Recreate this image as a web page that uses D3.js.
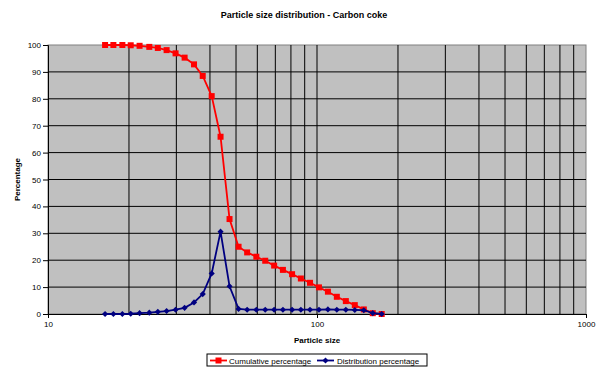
<!DOCTYPE html>
<html>
<head>
<meta charset="utf-8">
<script src="https://cdn.jsdelivr.net/npm/d3@7"></script>
<style>
  body { margin: 0; background: #fff; }
  text { font-family: "Liberation Sans", Arial, sans-serif; }
</style>
</head>
<body>
<div id="vis"></div>
<script>
// particle sizes
const sizes = [16.3, 17.5, 18.9, 20.3, 21.9, 23.8, 25.6, 27.6, 29.8, 32.2, 34.9, 37.6, 40.6,
  43.8, 47.3, 51.1, 55.0, 59.5, 64.2, 69.3, 74.7, 80.8, 87.1, 94.2, 101.7, 109.8, 118.5,
  128.0, 138.2, 149.3, 161.2, 174.0];
const cumulative = [100, 100, 100, 99.9, 99.7, 99.3, 98.9, 98.1, 96.9, 95.3, 92.8, 88.5, 81,
  65.9, 35.3, 25, 22.9, 21.3, 19.8, 18, 16.4, 14.8, 13.2, 11.6, 9.9, 8.3, 6.4, 4.8, 3.3, 1.7, 0.3, 0];
const distribution = [0, 0, 0, 0.1, 0.3, 0.5, 0.8, 1.1, 1.6, 2.3, 4.3, 7.4, 15.1,
  30.6, 10.3, 1.9, 1.6, 1.6, 1.6, 1.6, 1.6, 1.6, 1.6, 1.6, 1.6, 1.7, 1.6, 1.6, 1.5, 1.4, 0.3, 0];
const yTicks = [0, 10, 20, 30, 40, 50, 60, 70, 80, 90, 100];
const xTicks = [10, 100, 1000];

const svg = d3.select("#vis")
    .append("svg")
    .attr("width", 598)
    .attr("height", 367);

const plotL = 48, plotR = 586, plotT = 45, plotB = 314;

const x = d3.scaleLog().domain([10, 1000]).range([plotL, plotR]);
const y = d3.scaleLinear().domain([0, 100]).range([plotB, plotT]);

svg.append("rect")
    .attr("x", plotL).attr("y", plotT)
    .attr("width", plotR - plotL).attr("height", plotB - plotT)
    .attr("fill", "#c0c0c0")
    .attr("stroke", "#808080");

// vertical grid at every log step
const xGrid = d3.range(1, 3).flatMap(e => d3.range(1, 10).map(m => m * Math.pow(10, e)))
    .filter(v => v > 10);
svg.append("g").selectAll("line")
    .data(xGrid)
    .enter()
    .append("line")
    .attr("x1", d => x(d)).attr("x2", d => x(d))
    .attr("y1", plotT).attr("y2", plotB)
    .attr("stroke", "#000").attr("stroke-width", 1);

svg.append("g").selectAll("line")
    .data(yTicks.filter(d => d > 0 && d < 100))
    .enter()
    .append("line")
    .attr("x1", plotL).attr("x2", plotR)
    .attr("y1", d => y(d)).attr("y2", d => y(d))
    .attr("stroke", "#000").attr("stroke-width", 1);

// axes
const yAxis = svg.append("g")
    .attr("transform", `translate(${plotL},0)`)
    .call(d3.axisLeft(y).tickValues(yTicks).tickSize(5).tickPadding(2).tickFormat(d3.format("d")));
const xAxis = svg.append("g")
    .attr("transform", `translate(0,${plotB})`)
    .call(d3.axisBottom(x).tickValues(xTicks).tickSize(4).tickPadding(3).tickFormat(d3.format("d")));
[yAxis, xAxis].forEach(a => {
    a.select(".domain").attr("stroke", "#000");
    a.selectAll(".tick line").attr("stroke", "#000");
    a.selectAll("text").attr("font-size", 8).attr("fill", "#000")
        .style("font-family", "'Liberation Sans', Arial, sans-serif");
});

// series
const line = d3.line()
    .x((d, i) => x(sizes[i]))
    .y(d => y(d));

svg.append("path")
    .datum(cumulative)
    .attr("d", line)
    .attr("fill", "none")
    .attr("stroke", "#ff0000")
    .attr("stroke-width", 1.8);

svg.append("g").selectAll("rect")
    .data(cumulative)
    .enter()
    .append("rect")
    .attr("x", (d, i) => x(sizes[i]) - 3)
    .attr("y", d => y(d) - 3)
    .attr("width", 6).attr("height", 6)
    .attr("fill", "#ff0000");

svg.append("path")
    .datum(distribution)
    .attr("d", line)
    .attr("fill", "none")
    .attr("stroke", "#000080")
    .attr("stroke-width", 1.8);

const diamond = d3.symbol().type(d3.symbolDiamond2).size(24);
svg.append("g").selectAll("path")
    .data(distribution)
    .enter()
    .append("path")
    .attr("d", diamond)
    .attr("transform", (d, i) => `translate(${x(sizes[i])},${y(d)})`)
    .attr("fill", "#000080");

// titles
svg.append("text")
    .attr("x", 304).attr("y", 18)
    .attr("text-anchor", "middle")
    .attr("font-size", 9).attr("font-weight", "bold")
    .text("Particle size distribution - Carbon coke");

svg.append("text")
    .attr("x", 317).attr("y", 343)
    .attr("text-anchor", "middle")
    .attr("font-size", 8).attr("font-weight", "bold")
    .text("Particle size");

svg.append("text")
    .attr("transform", `translate(20,${(plotT + plotB) / 2}) rotate(-90)`)
    .attr("text-anchor", "middle")
    .attr("font-size", 8).attr("font-weight", "bold")
    .text("Percentage");

// legend
const legend = svg.append("g");
legend.append("rect")
    .attr("x", 207).attr("y", 354)
    .attr("width", 220).attr("height", 12)
    .attr("fill", "#fff").attr("stroke", "#000");

const items = [
    { name: "Cumulative percentage", color: "#ff0000", x0: 210, tx: 229 },
    { name: "Distribution percentage", color: "#000080", x0: 317, tx: 337 }
];
items.forEach((it, k) => {
    legend.append("line")
        .attr("x1", it.x0).attr("x2", it.x0 + 17)
        .attr("y1", 360.5).attr("y2", 360.5)
        .attr("stroke", it.color).attr("stroke-width", 1.8);
    if (k === 0) {
        legend.append("rect")
            .attr("x", it.x0 + 5.5).attr("y", 357.5)
            .attr("width", 6).attr("height", 6)
            .attr("fill", it.color);
    } else {
        legend.append("path")
            .attr("d", diamond)
            .attr("transform", `translate(${it.x0 + 8.5},360.5)`)
            .attr("fill", it.color);
    }
    legend.append("text")
        .attr("x", it.tx).attr("y", 363.5)
        .attr("font-size", 8)
        .text(it.name);
});
</script>
</body>
</html>
